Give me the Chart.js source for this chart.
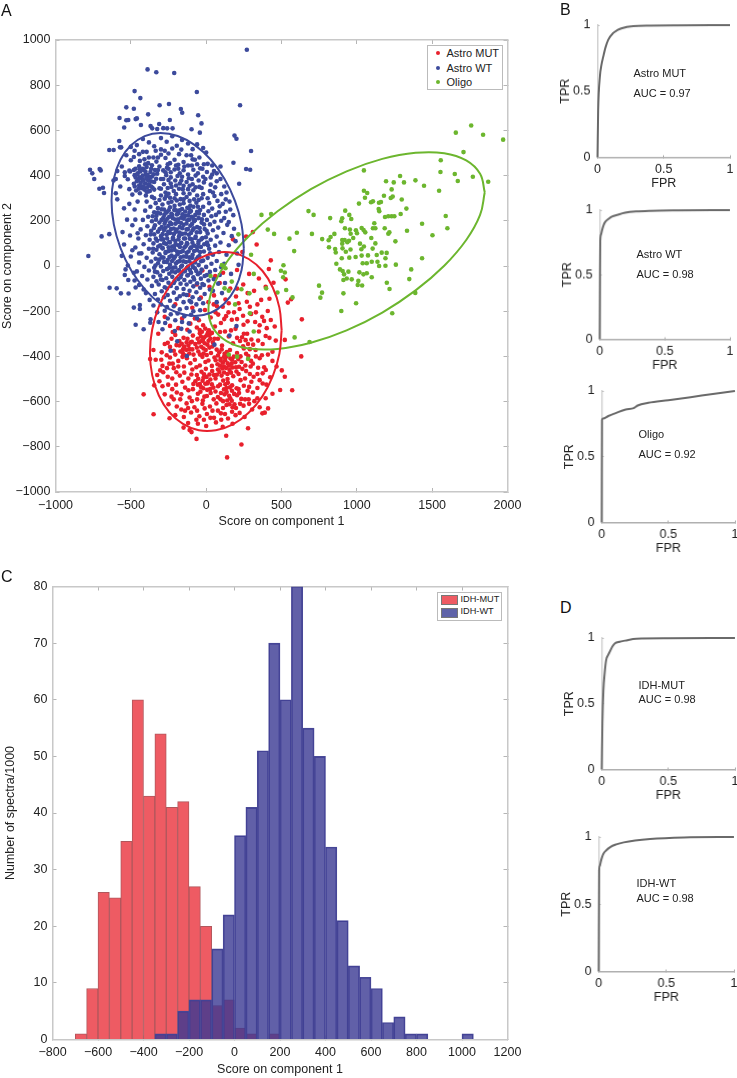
<!DOCTYPE html>
<html>
<head>
<meta charset="utf-8">
<title>Score plots and ROC curves</title>
<script src="https://cdn.jsdelivr.net/npm/chart.js@4/dist/chart.umd.min.js"></script>
<style>
  html, body { margin: 0; padding: 0; background: #fff; overflow: hidden; }
  body { position: relative; width: 737px; height: 1078px; font-family: "Liberation Sans", Arial, sans-serif; color: #222; }
  canvas { position: absolute; }
  .txt { position: absolute; white-space: nowrap; line-height: 1; transform: translateY(-50%); }
  .letter { font-size: 16px; color: #111; }
  .roc { font-size: 11px; }
  .legend { position: absolute; background: #fff; border: 1px solid #bbb; box-sizing: border-box; }
  .dot { position: absolute; width: 4px; height: 4px; border-radius: 50%; }
  .swatch { position: absolute; width: 17px; height: 10px; border: 1px solid #777; box-sizing: border-box; }
</style>
</head>
<body>
<script>
// Panel A
const astroMut = [
[-415,-568],[-349,-656],[-243,-674],[-150,-715],[-110,-726],[-97,-735],[-64,-765],[133,-751],[234,-790],[139,-847],[278,-718],
[635,-236],[631,-400],[571,-550],[491,-549],[440,-565],[411,-630],[389,-649],[373,-652],[522,-490],[502,-462],[467,-445],[396,-460],
[522,-327],[440,-379],[429,-239],[409,-199],[384,-243],[542,-162],[564,-147],[527,-59],[447,-74],[416,-13],[429,25],[310,150],[265,130],[335,95],
[178,118],[240,62],[-25,-20],[60,-45],[112,-30],[205,-18],[285,-35],[350,-55],[395,-92],[-62,-82],[22,-92],[90,-75],[160,-100],[246,-82],[318,-110],
[-118,-128],[-35,-140],[52,-130],[128,-148],[198,-135],[270,-158],[340,-170],[420,-145],[-205,-170],[-92,-185],[-8,-195],[72,-178],[148,-205],[222,-190],[298,-212],[372,-225],
[-275,-225],[-160,-232],[-48,-240],[30,-228],[98,-252],[170,-238],[248,-260],[325,-248],[402,-275],[455,-268],
[-240,-265],[-125,-282],[-62,-272],[-20,-262],[18,-285],[58,-268],[125,-290],[195,-278],[272,-300],[350,-290],[420,-318],
[-318,-300],[-205,-305],[-150,-318],[-88,-308],[-42,-298],[-12,-315],[22,-305],[78,-322],[150,-312],[225,-332],[300,-325],[375,-345],[462,-330],
[-255,-340],[-178,-352],[-130,-338],[-72,-345],[-30,-332],[8,-348],[45,-338],[105,-352],[178,-342],[250,-365],[328,-372],[410,-392],
[-350,-372],[-295,-382],[-215,-375],[-155,-385],[-110,-368],[-52,-378],[-18,-365],[32,-385],[70,-370],[122,-388],[158,-372],[205,-385],[280,-398],[355,-408],
[-372,-412],[-335,-415],[-240,-405],[-185,-420],[-128,-408],[-75,-415],[-25,-402],[15,-418],[55,-405],[95,-418],[132,-402],[172,-415],[235,-425],[310,-432],[385,-448],
[-290,-442],[-215,-452],[-148,-445],[-92,-458],[-42,-440],[-2,-455],[38,-442],[78,-458],[118,-445],[155,-460],[198,-448],[265,-465],[340,-478],
[-325,-482],[-255,-490],[-175,-485],[-118,-498],[-62,-482],[-18,-495],[22,-480],[62,-498],[102,-485],[142,-500],[180,-488],[228,-505],[300,-512],[375,-520],[425,-492],
[-345,-528],[-290,-532],[-200,-525],[-140,-538],[-85,-522],[-35,-535],[8,-520],[48,-538],[92,-525],[135,-540],[172,-528],[215,-545],[275,-552],[340,-540],
[-275,-568],[-230,-578],[-165,-568],[-110,-582],[-55,-565],[-12,-578],[30,-562],[78,-580],[122,-568],[160,-585],[205,-572],[258,-590],[320,-598],[395,-585],
[-250,-612],[-195,-622],[-130,-608],[-78,-625],[-25,-610],[25,-622],[68,-608],[112,-628],[155,-612],[198,-628],[248,-618],[305,-635],[355,-625],
[-205,-660],[-148,-668],[-100,-648],[-45,-665],[5,-655],[52,-672],[98,-652],[145,-675],[195,-660],[255,-668],
[-120,-695],[-55,-698],[0,-708],[65,-692],[110,-712],[175,-698],
// dense patches
[-43,-283],[-28,-291],[-6,-277],[11,-296],[-35,-312],[-21,-326],[3,-307],[16,-331],[-47,-338],[-10,-342],[27,-322],[-33,-357],[-3,-372],[22,-361],[-56,-322],[38,-296],[-17,-387],[4,-394],[-41,-392],[41,-356],
[87,-382],[103,-369],[119,-402],[137,-381],[148,-396],[96,-411],[111,-428],[126,-417],[143,-431],[161,-409],[78,-396],[169,-432],[184,-401],[92,-441],[107,-453],[132,-451],[151,-441],[174,-449],[63,-417],[193,-426],[119,-471],[141,-478],[88,-469],[165,-472],[213,-412],[218,-446],[71,-481],[201,-467],
[-178,-332],[-162,-344],[-146,-356],[-131,-371],[-118,-352],[-103,-338],[-154,-369],[-171,-378],[-112,-387],[-92,-369],[-143,-395],[-84,-392],[-197,-350],[-124,-322],[-62,-361],[-157,-402],
[-31,-468],[-14,-479],[3,-491],[-24,-508],[-6,-521],[12,-513],[28,-502],[-42,-522],[-19,-541],[7,-548],[-53,-499],[38,-524],[-72,-510],[52,-482],[-38,-556],[26,-545],
[113,-507],[127,-523],[144,-517],[158,-537],[171,-552],[118,-546],[136,-558],[152,-574],[98,-562],[186,-566],[202,-541],[79,-532],[218,-562],[170,-596],[140,-595],[112,-598],[188,-612],[233,-588],
[250,-300],[262,-328],[278,-345],[238,-315],[290,-368],[265,-388],[245,-355],[312,-348],[228,-400],[298,-420],[260,-440],[330,-400],[345,-450],[290,-478],[258,-498],[315,-490],[285,-535],[250,-530],
[-275,-345],[-240,-358],[-262,-395],[-222,-432],[-260,-452],[-305,-462],[-198,-470],[-158,-512],[-118,-550],[-172,-590],[-140,-640],[-95,-598],[-60,-640],[-10,-630],[42,-640],[100,-680],
[110,-180],[150,-165],[185,-205],[215,-165],[245,-220],[290,-180],[330,-205],[365,-150],[205,-100],[275,-120],[80,-215],[120,-235],[50,-170],[15,-160],
// filling between the patches
[-222,-292],[-185,-275],[-105,-255],[-75,-232],[62,-205],[132,-222],[205,-235],[275,-245],[355,-262],[395,-310],[345,-330],[205,-318],[165,-285],[92,-292],[55,-322],
[-230,-322],[-95,-335],[-205,-392],[-298,-415],[-245,-432],[-185,-445],[-105,-430],[-65,-448],[-5,-425],[40,-465],[75,-435],[215,-478],[240,-455],[295,-445],[370,-395],
[-285,-470],[-225,-498],[-145,-472],[-98,-480],[-88,-545],[-55,-525],[-60,-590],[-22,-595],[5,-575],[50,-590],[62,-555],[95,-590],[135,-615],[175,-625],[225,-610],[282,-590],[340,-585],[355,-505],[400,-525],
[-225,-545],[-195,-560],[-252,-525],[-310,-510],[-215,-590],[-165,-635],[-120,-628],[-65,-680],[-15,-680],[28,-672],[78,-640],[125,-655],[172,-645],[222,-650],[285,-610],[310,-560],[375,-475],[440,-420]
];
const astroWt = [
[270,957],[-389,870],[-331,857],[-212,854],[-475,774],[-62,770],[-437,743],[225,711],[-309,711],[-247,717],[-530,702],[-480,696],[-168,695],[-159,678],[-385,671],[-53,667],
[-575,655],[-530,645],[-517,646],[-468,650],[-460,653],[-241,646],[-312,628],[-433,624],[-31,631],[-544,613],[-369,619],[-358,609],[-325,606],[-285,610],[-259,609],[-223,609],
[-97,605],[-42,590],[188,577],[201,563],[-577,553],[-572,525],[-564,525],[-643,513],[-614,513],[298,509],[181,457],[265,429],[292,426],[-771,426],[-756,410],[-707,429],[-700,423],
[-743,385],[-709,342],[-685,346],[-678,323],[219,364],[-782,44],[-694,131],[-643,141],[-641,-96],[-594,-99],[-566,-121],[-515,-122],[-517,-62],[-468,-95],[-415,-104],
[-480,-184],[-440,-173],[-440,-190],[-468,-260],[-415,-280],[-369,-236],[-371,-251],[-316,-248],[-272,-252],[-290,-280],[-208,-288],[-192,-333],[-236,-375],[-128,-398],[55,-348],[155,-308],[201,-266],
[-420,562],[-380,547],[-345,530],[-300,566],[-262,550],[-225,574],[-195,532],[-160,558],[-120,542],[-90,517],[-60,538],[-20,522],[0,502],[-460,535],[-500,527],[-395,505],[-300,516],[-250,498],[-180,495],[-130,490],[-75,470],
[-530,490],[-500,468],[-480,482],[-440,465],[-410,472],[-385,455],[-350,480],[-330,462],[-300,492],[-270,478],[-240,455],[-210,470],[-185,448],[-150,460],[-120,445],[-90,472],[-60,450],[-25,430],[10,452],[40,405],[52,420],[95,440],
[-560,440],[-590,420],[-540,415],[-510,422],[-470,430],[-445,441],[-420,430],[-395,438],[-360,446],[-340,425],[-310,440],[-285,423],[-260,435],[-235,415],[-210,427],[-175,410],[-150,424],[-120,405],[-85,426],[-55,410],[-20,395],[5,416],[-600,385],
[-505,418],[-455,410],[-415,425],[-370,416],[-325,408],[-265,402],[-190,398],[-115,388],[-50,378],[30,392],[70,375],[120,352],
[-540,398],[-475,402],[-440,392],[-400,405],[-360,396],[-300,385],[-235,392],[-165,378],[-90,362],[-15,370],[60,348],
[-615,378],[-520,384],[-460,375],[-425,385],[-385,378],[-345,372],[-280,362],[-200,356],[-120,340],[-45,350],[25,332],[100,318],
[-570,352],[-480,364],[-445,356],[-405,365],[-365,352],[-310,344],[-230,350],[-150,322],[-85,335],[-20,318],[55,310],[130,295],
[-600,322],[-510,340],[-465,334],[-425,344],[-385,330],[-345,338],[-270,325],[-200,318],[-130,305],[-60,312],[10,300],[75,288],
[-590,295],[-490,316],[-440,322],[-400,312],[-360,306],[-300,312],[-240,302],[-170,296],[-110,288],[-50,292],[20,278],[90,264],[160,250],
[-310,292],[-275,298],[-230,284],[-195,290],[-150,278],[-105,268],[-65,280],[-20,262],[40,254],[85,238],
[-395,285],[-335,278],[-290,272],[-250,280],[-210,266],[-175,272],[-125,258],[-85,262],[-40,248],[15,242],[65,226],[120,212],
[-370,262],[-320,256],[-280,250],[-240,260],[-200,246],[-160,252],[-110,238],[-60,240],[-15,226],[35,220],[100,200],
[-405,245],[-345,238],[-305,232],[-262,238],[-225,226],[-185,234],[-140,222],[-95,218],[-50,212],[5,204],[55,196],[140,182],
[-385,218],[-330,222],[-285,212],[-245,218],[-205,206],[-165,214],[-125,202],[-80,198],[-30,192],[25,184],[80,170],
[-420,204],[-360,198],[-310,192],[-270,198],[-230,186],[-190,194],[-150,182],[-105,178],[-60,172],[-10,164],[45,158],[115,146],[170,132],
[-390,176],[-340,180],[-295,172],[-250,178],[-215,166],[-175,172],[-130,162],[-90,158],[-40,150],[10,144],[70,130],
[-435,162],[-365,156],[-320,152],[-280,158],[-240,146],[-200,152],[-160,142],[-115,138],[-70,130],[-25,124],[30,116],[95,104],[150,92],
[-400,136],[-345,140],[-300,132],[-262,138],[-220,126],[-180,132],[-140,122],[-95,118],[-50,110],[5,104],[60,90],
[-450,122],[-375,116],[-325,112],[-285,118],[-245,106],[-205,112],[-165,102],[-125,98],[-80,90],[-35,84],[20,76],[85,62],[135,50],
[-415,96],[-350,100],[-305,92],[-265,98],[-225,86],[-185,92],[-145,82],[-105,78],[-60,70],[-15,64],[45,50],
[-470,82],[-380,76],[-330,72],[-290,78],[-250,66],[-210,72],[-170,62],[-130,58],[-90,50],[-45,44],[10,36],[70,22],[120,10],
[-430,56],[-355,60],[-310,52],[-270,58],[-230,46],[-190,52],[-150,42],[-110,38],[-65,30],[-20,24],[35,10],[100,-5],
[-500,42],[-395,36],[-335,32],[-295,38],[-255,26],[-215,32],[-175,22],[-135,18],[-95,10],[-50,4],[0,-4],[60,-18],
[-445,16],[-365,20],[-320,12],[-280,18],[-240,6],[-200,12],[-160,2],[-120,-2],[-75,-10],[-30,-16],[25,-26],[90,-40],
[-520,2],[-410,-4],[-345,-8],[-300,-2],[-260,-14],[-220,-8],[-180,-18],[-140,-22],[-100,-30],[-55,-36],[-10,-44],[50,-58],
[-460,-24],[-380,-20],[-325,-28],[-285,-22],[-245,-34],[-205,-28],[-165,-38],[-125,-42],[-85,-50],[-35,-56],[15,-64],[80,-78],
[-540,-40],[-425,-44],[-350,-48],[-305,-42],[-265,-54],[-225,-48],[-185,-58],[-145,-62],[-105,-70],[-60,-76],[-15,-84],
[-475,-64],[-390,-60],[-330,-68],[-290,-62],[-250,-74],[-210,-68],[-170,-78],[-130,-82],[-85,-90],[-40,-96],[25,-104],
[-445,-84],[-360,-88],[-315,-82],[-275,-94],[-235,-88],[-195,-98],[-150,-102],[-110,-110],[-65,-116],[-10,-124],[45,-110],
[-400,-120],[-340,-124],[-295,-112],[-255,-128],[-215,-118],[-175,-134],[-130,-128],[-90,-138],[-45,-146],[70,-160],
[-375,-150],[-320,-148],[-280,-138],[-240,-154],[-195,-146],[-150,-160],[-110,-154],[-65,-170],[-20,-165],
[-350,-175],[-300,-170],[-260,-182],[-215,-178],[-175,-192],[-130,-186],[-85,-200],[-40,-196],
[-325,-205],[-275,-198],[-235,-214],[-190,-210],[-145,-222],[-100,-216],[-60,-232],
[-255,-232],[-205,-240],[-160,-248],[-115,-254],[-165,-278],[-110,-290],
// dense patches
[-296,204],[-276,187],[-258,209],[-239,192],[-221,211],[-204,187],[-186,207],[-168,191],[-149,209],[-131,188],[-112,205],[-94,186],[-73,203],[-309,164],[-289,141],[-270,169],[-252,151],[-233,164],[-214,142],[-196,161],[-177,148],[-158,167],[-139,144],[-121,163],[-101,146],[-82,167],[-62,149],[-43,168],
[-298,118],[-279,101],[-259,122],[-241,104],[-222,119],[-203,97],[-184,118],[-166,103],[-147,122],[-128,101],[-109,121],[-91,103],[-71,124],[-52,99],[-32,118],[-13,96],[-289,79],[-268,62],[-249,83],[-231,69],[-212,87],[-193,64],[-174,84],[-155,66],[-137,87],[-117,64],[-99,83],[-80,66],[-61,84],[-40,62],
[-283,37],[-262,18],[-244,40],[-226,22],[-207,41],[-188,19],[-169,39],[-151,21],[-131,41],[-112,21],[-93,36],[-74,16],[-56,38],[-33,21],[-205,-6],[-186,-21],[-167,-3],[-148,-24],[-128,-9],[-107,-18],[-88,-4],[-66,-22],[-247,-9],[-227,-24],
[-268,236],[-249,247],[-231,231],[-212,248],[-194,228],[-176,246],[-157,229],[-139,241],[-120,224],[-101,243],[-72,226],[-278,226],[-296,251],[-85,208],[-48,232],[-28,207],[-14,184],[3,156],[-2,127],[12,92],[26,56],[-318,86],[-334,121],[-347,168],[-333,205],[-321,237],[-355,220],[-368,140],[-352,76],[-312,28],[-337,2],
[-458,405],[-437,418],[-421,400],[-403,418],[-388,402],[-372,391],[-452,381],[-434,368],[-416,378],[-398,389],[-380,362],[-362,374],[-447,342],[-428,352],[-410,338],[-392,348],[-374,332],[-356,346],[-468,392],[-442,428],[-418,352],[-474,352],[-332,386],[-348,406],[-480,425],[-395,328],
[-300,342],[-255,345],[-215,332],[-180,342],[-250,380],[-205,378],[-150,355],[-110,320],[-270,415],[-130,372],[-70,348],[-185,430],[-80,295],[-150,295],[-30,300],[-345,300],[-210,300],[-265,310],[-115,255],[-55,262],
[-120,-40],[-80,-60],[-40,-30],[-170,-50],[-215,-75],[-260,-100],[-150,-125],[-100,-160],[-300,-60],[-340,-25],[-25,-80],[5,-40],
// filling the rest of the ring
[-545,255],[-510,275],[-475,250],[-455,285],[-525,205],[-490,180],[-555,150],[-505,135],[-470,205],[-455,145],[-545,95],[-490,70],[-560,45],[-445,55],[-535,-15],[-480,-30],
[-320,480],[-275,510],[-225,520],[-165,515],[-100,490],[-45,480],[-15,450],[40,445],[70,410],[95,385],[135,325],[155,285],[180,225],[185,165],[195,110],[205,55],[215,5],[165,-35],[125,-75],[105,-120],
[-250,430],[-200,445],[-145,440],[-95,445],[-40,432],[-5,385],[30,360],[45,325],[110,275],[130,240],[150,195],[-255,450],[-335,510],[-475,510],[-420,505],[-445,495],[-380,480],[-405,450],[-365,430],[-320,425],
[-160,395],[-95,385],[-70,400],[-30,345],[-110,355],[-175,365],[-235,365],[-285,385],[-250,320],[-155,340]
];
const oligo = [
[1759,622],[1657,590],[1838,581],[1971,559],[1708,504],[1557,468],[1555,416],[1650,407],[1670,376],[1770,395],[1872,373],[1546,333],[1047,423],
[1194,375],[1245,370],[1313,370],[1287,398],[1389,379],[1446,355],[1231,339],[1047,333],[1069,323],[1180,311],[1225,301],[1238,307],[1298,294],[1054,302],[1014,276],
[1094,282],[1107,286],[1147,280],[1160,283],[1145,252],[1149,242],[1329,254],[1291,230],[1187,217],[1209,220],[1231,220],[1249,220],[923,245],[950,226],[963,208],[903,211],[897,198],
[679,243],[713,226],[823,212],[1590,221],[1116,189],[1107,167],[1123,167],[1433,187],[1601,167],[1185,167],[1209,143],[1216,149],[1333,156],[1502,136],[1256,109],
[921,167],[954,161],[959,143],[994,158],[1001,145],[1032,168],[1045,159],[1056,149],[851,142],[826,128],[813,114],[702,142],[770,119],[602,147],[553,121],[451,142],[409,161],[431,230],[367,226],[584,66],
[815,83],[903,115],[919,115],[948,112],[976,124],[903,99],[937,105],[1021,99],[1030,74],[1047,86],[1096,124],[1123,100],[1105,77],[856,75],[860,60],[905,78],[927,63],[958,73],[1165,59],[1198,58],
[900,34],[950,37],[992,40],[1032,46],[1074,47],[1132,49],[1190,34],[1433,34],[513,3],[496,-21],[522,-29],[511,-50],[398,-99],[473,-117],[531,-106],[573,-139],[587,-316],[686,-336],
[749,-87],[769,-118],[758,-140],[864,10],[888,-15],[906,-22],[915,-37],[911,-62],[933,-55],[966,-59],[911,-121],[897,-199],[995,-165],[944,-25],[1017,-28],[1044,-37],[1066,-32],[1099,-50],[1010,-66],[1006,-84],[1035,-86],
[1039,12],[1066,12],[1099,19],[1137,19],[1190,1],[1148,0],[1259,6],[1361,-15],[1348,-58],[1199,-74],[1217,-102],[1388,-119],[1235,-209],
[104,4],[128,-10],[29,-44],[316,-35],[170,-69],[122,-99],[150,-109],[234,-103],[287,-121],[192,-170],[290,-209],[316,-290],[150,-392],[205,-401],[278,-411],[214,140],[298,50]
];
const ellipseMut = [[501,-284],[486,-184],[442,-95],[373,-21],[282,31],[177,59],[64,59],[-49,33],[-154,-19],[-245,-91],[-314,-180],[-358,-280],[-373,-384],[-358,-484],[-314,-573],[-245,-647],[-154,-699],[-49,-727],[64,-727],[177,-701],[282,-649],[373,-577],[442,-487],[486,-388],[501,-284]];
const ellipseWt = [[250,79],[235,184],[191,288],[121,386],[31,470],[-75,535],[-189,575],[-303,589],[-408,575],[-499,534],[-569,470],[-613,386],[-628,289],[-613,184],[-569,80],[-499,-18],[-408,-102],[-303,-167],[-189,-207],[-75,-221],[31,-207],[121,-166],[191,-102],[235,-18],[250,79]];
const ellipseOligo = [[1849,326],[1818,408],[1726,467],[1580,499],[1390,501],[1169,474],[932,419],[695,340],[474,242],[284,133],[138,19],[46,-92],[15,-192],[46,-274],[138,-333],[284,-365],[474,-367],[695,-340],[932,-285],[1169,-206],[1390,-108],[1580,1],[1726,115],[1818,226],[1849,326]];
const scatterNames = ["Astro MUT", "Astro WT", "Oligo"];

// Panel C
const binCenters = [-675,-625,-575,-525,-475,-425,-375,-325,-275,-225,-175,-125,-75,-25,25,75,125,175,225,275,325,375,425,475,525,575,625,675,725,775,825,875,925,975,1025];
const idhMutCounts = [1,9,26,25,35,60,43,54,41,42,27,20,6,7,2,1,0,1,0,0,0,0,0,0,0,0,0,0,0,0,0,0,0,0,0];
const idhWtCounts = [0,0,0,0,0,0,0,1,1,5,7,7,16,22,36,41,51,70,60,80,55,50,34,21,13,11,9,3,4,1,1,0,0,0,1];
const histNames = ["IDH-MUT", "IDH-WT"];

// Panels B and D, ROC curves
const astroMutFpr = [0,0.005,0.018,0.03,0.043,0.06,0.08,0.118,0.15,0.18,0.27,0.4,0.6,1];
const astroMutTpr = [0,0.35,0.61,0.7,0.76,0.83,0.887,0.94,0.962,0.975,0.992,0.996,0.998,1];
const astroWtFpr = [0,0.002,0.004,0.01,0.018,0.03,0.043,0.065,0.094,0.14,0.196,0.28,0.39,0.6,1];
const astroWtTpr = [0,0.5,0.76,0.81,0.845,0.885,0.91,0.93,0.95,0.965,0.98,0.99,0.995,0.998,1];
const oligoFpr = [0,0.002,0.01,0.05,0.1,0.18,0.24,0.27,0.35,0.5,0.75,1];
const oligoTpr = [0,0.78,0.79,0.81,0.83,0.86,0.87,0.89,0.91,0.93,0.965,1];
const idhMutFpr = [0,0.005,0.0125,0.022,0.033,0.048,0.063,0.08,0.1,0.135,0.175,0.26,0.5,1];
const idhMutTpr = [0,0.35,0.6,0.73,0.83,0.87,0.9,0.935,0.96,0.972,0.98,0.995,0.998,1];
const idhWtFpr = [0,0.003,0.008,0.015,0.025,0.035,0.055,0.085,0.13,0.185,0.38,0.63,1];
const idhWtTpr = [0,0.75,0.785,0.815,0.85,0.875,0.9,0.925,0.945,0.96,0.985,0.997,1];
const rocTicks = [0, 0.5, 1];

const RED = "#e8202c", BLUE = "#3c4a9c", GREEN = "#6cb62e";
const FONT = '"Liberation Sans", Arial, sans-serif';
const tickFont = { family: FONT, size: 12.5 };

function addText(cls, str, x, y, extra) {
  const d = document.createElement("div");
  d.className = "txt " + cls;
  d.textContent = str;
  d.style.left = x + "px";
  d.style.top = y + "px";
  if (extra) Object.assign(d.style, extra);
  document.body.appendChild(d);
  return d;
}

// canvas rect, and plot rect in page pixels; the scales are pinned to fit
function makeChart(box, plot, config) {
  const c = document.createElement("canvas");
  c.width = box.w; c.height = box.h;
  c.style.left = box.x + "px"; c.style.top = box.y + "px";
  c.style.width = box.w + "px"; c.style.height = box.h + "px";
  document.body.appendChild(c);
  const sizes = {
    left: plot.l - box.x, bottom: box.y + box.h - plot.b, top: 0, right: 0,
  };
  Object.values(config.options.scales).forEach((s) => {
    s.afterFit = (scale) => {
      if (scale.isHorizontal()) scale.height = sizes[s.position];
      else scale.width = sizes[s.position];
    };
  });
  config.options.responsive = false;
  config.options.animation = false;
  config.options.devicePixelRatio = 1;
  config.options.layout = { padding: {
    left: 0, bottom: 0, top: plot.t - box.y, right: box.x + box.w - plot.r,
  } };
  config.options.plugins = { legend: { display: false }, tooltip: { enabled: false } };
  return new Chart(c, config);
}

function minusLabel(v) {
  return v < 0 ? "\u2212" + Math.abs(v) : String(v);
}

function frameAxis(position, min, max, step, title, padding, titlePad) {
  const shown = position === "left" || position === "bottom";
  return {
    type: "linear", position, min, max, offset: false,
    grid: { drawOnChartArea: false, offset: false, tickLength: -4, tickColor: "#b5b5b5", tickWidth: 1 },
    border: { color: "#c8c8c8", width: 1.5 },
    ticks: {
      display: shown, stepSize: step, autoSkip: false, maxRotation: 0,
      padding, color: "#222", font: tickFont, callback: minusLabel,
    },
    title: title ? { display: true, text: title, color: "#222", font: { family: FONT, size: 12.5 }, padding: { top: titlePad || 0, bottom: 0 } } : { display: false },
  };
}

function toPoints(pairs) {
  return pairs.map((p) => ({ x: p[0], y: p[1] }));
}

// A
function dots(label, pairs, color, order) {
  return { label, data: toPoints(pairs), backgroundColor: color, borderWidth: 0, pointRadius: 2.3, order };
}
function outline(pairs, color) {
  return { data: toPoints(pairs), showLine: true, borderColor: color, borderWidth: 2, pointRadius: 0, tension: 0.4, order: 0 };
}
makeChart({ x: 0, y: 15, w: 540, h: 514 }, { l: 55.5, r: 507.5, t: 40, b: 492 }, {
  type: "scatter",
  data: { datasets: [
    dots(scatterNames[0], astroMut, RED, 3),
    dots(scatterNames[1], astroWt, BLUE, 2),
    dots(scatterNames[2], oligo, GREEN, 1),
    outline(ellipseWt, BLUE),
    outline(ellipseMut, RED),
    outline(ellipseOligo, GREEN),
  ] },
  options: { scales: {
    x: frameAxis("bottom", -1000, 2000, 500, "Score on component 1", 10),
    y: frameAxis("left", -1000, 1000, 200, "Score on component 2", 9),
    x2: frameAxis("top", -1000, 2000, 500),
    y2: frameAxis("right", -1000, 1000, 200),
  } },
});

// C
function histSet(label, values, fill, edge, order) {
  return {
    label, order, backgroundColor: fill, borderColor: edge, borderWidth: 1,
    grouped: false, categoryPercentage: 1, barPercentage: 1,
    data: binCenters.map((x, i) => ({ x, y: values[i] })),
  };
}
makeChart({ x: 0, y: 560, w: 540, h: 517 }, { l: 52.5, r: 507.5, t: 586.5, b: 1039.5 }, {
  type: "bar",
  data: { datasets: [
    histSet(histNames[0], idhMutCounts, "#ee5b63", "#b0575c", 2),
    histSet(histNames[1], idhWtCounts, "rgba(58,56,146,0.8)", "#4a4a98", 1),
  ] },
  options: { scales: {
    x: frameAxis("bottom", -800, 1200, 200, "Score on component 1", 10),
    y: frameAxis("left", 0, 80, 10, "Number of spectra/1000", 9, 3.5),
    x2: frameAxis("top", -800, 1200, 200),
    y2: frameAxis("right", 0, 80, 10),
  } },
});

// B, D
function rocAxis(position, title, padding) {
  return {
    type: "linear", position, min: 0, max: 1, offset: false,
    afterBuildTicks: (scale) => { scale.ticks = rocTicks.map((value) => ({ value })); },
    grid: { drawOnChartArea: false, tickLength: -2, tickColor: "#aaa", tickWidth: 1 },
    border: { color: position === "left" ? "#d2d2d2" : "#b0b0b0", width: 1.5 },
    ticks: { autoSkip: false, maxRotation: 0, padding, color: "#222", font: tickFont, callback: (v) => String(v) },
    title: { display: true, text: title, color: "#222", font: { family: FONT, size: 12.5 }, padding: 0 },
  };
}
function rocChart(plot, fpr, tpr) {
  const box = { x: plot.l - 39.5, y: plot.t - 20, h: plot.b - plot.t + 53.5 };
  box.w = plot.r + 20 - box.x;
  makeChart(box, plot, {
    type: "scatter",
    data: { datasets: [{
      data: fpr.map((x, i) => ({ x, y: tpr[i] })),
      showLine: true, borderColor: "#6a6a6a", borderWidth: 2, pointRadius: 0, cubicInterpolationMode: "monotone",
    }] },
    options: { clip: false, scales: { x: rocAxis("bottom", "FPR", 7), y: rocAxis("left", "TPR", 9) } },
  });
}
rocChart({ l: 597.5, r: 730, t: 25, b: 157 }, astroMutFpr, astroMutTpr);
rocChart({ l: 599.5, r: 729.5, t: 210, b: 339 }, astroWtFpr, astroWtTpr);
rocChart({ l: 601.5, r: 734.5, t: 390.5, b: 522.5 }, oligoFpr, oligoTpr);
rocChart({ l: 601.5, r: 734.5, t: 637.5, b: 769.5 }, idhMutFpr, idhMutTpr);
rocChart({ l: 598.5, r: 733.5, t: 836.5, b: 971.5 }, idhWtFpr, idhWtTpr);

// annotations
addText("roc", "Astro MUT", 633.5, 72.5);
addText("roc", "AUC = 0.97", 633.5, 92.5);
addText("roc", "Astro WT", 636.5, 254);
addText("roc", "AUC = 0.98", 636.5, 274);
addText("roc", "Oligo", 638.5, 433.5);
addText("roc", "AUC = 0.92", 638.5, 453.5);
addText("roc", "IDH-MUT", 638.5, 684.5);
addText("roc", "AUC = 0.98", 638.5, 698.5);
addText("roc", "IDH-WT", 636.5, 882.5);
addText("roc", "AUC = 0.98", 636.5, 897.5);
addText("letter", "A", 1, 11);
addText("letter", "B", 560, 10);
addText("letter", "C", 1, 577);
addText("letter", "D", 560, 608);

// legends
function legendBox(x, y, w, h) {
  const d = document.createElement("div");
  d.className = "legend";
  Object.assign(d.style, { left: x + "px", top: y + "px", width: w + "px", height: h + "px" });
  document.body.appendChild(d);
}
legendBox(427, 45, 75.5, 44.5);
[RED, BLUE, GREEN].forEach((col, i) => {
  const cy = [53, 67.5, 81.5][i];
  const dot = document.createElement("div");
  dot.className = "dot";
  Object.assign(dot.style, { left: "436px", top: cy - 2 + "px", background: col });
  document.body.appendChild(dot);
  addText("", scatterNames[i], 446.5, cy, { fontSize: "11px" });
});
legendBox(437, 592, 64.5, 28.5);
["#ee5b63", "#5f63a8"].forEach((col, i) => {
  const s = document.createElement("div");
  s.className = "swatch";
  Object.assign(s.style, { left: "440.5px", top: 595 + i * 12.5 + "px", background: col });
  document.body.appendChild(s);
  addText("", histNames[i], 460.5, 600 + i * 12.3, { fontSize: "9.2px" });
});
</script>
</body>
</html>
